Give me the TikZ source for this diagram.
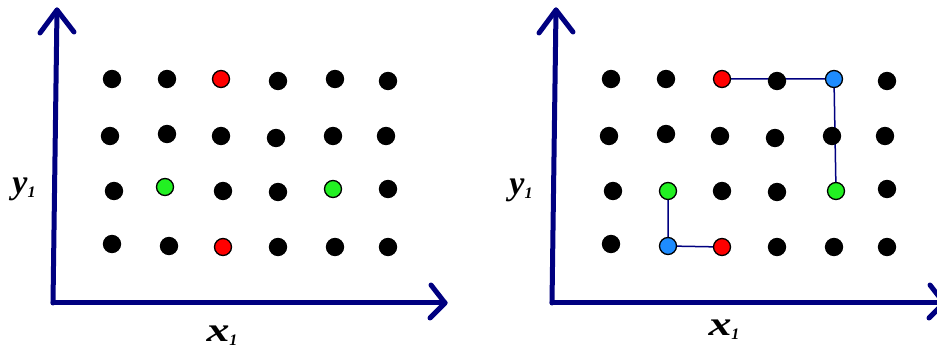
\documentclass[tikz,border=0pt]{standalone}
\usepackage{fontspec}
\setmainfont{Liberation Serif}
\pgfdeclarelayer{bg}
\pgfsetlayers{bg,main}
\definecolor{navy}{RGB}{0,0,128}
\definecolor{dotred}{RGB}{255,0,0}
\definecolor{dotgreen}{RGB}{34,240,34}
\definecolor{dotblue}{RGB}{30,140,255}
\tikzset{
  dot/.style={circle, fill=black, draw=black, line width=1.3pt, inner sep=0pt, minimum size=17pt},
  rdot/.style={dot, fill=dotred},
  gdot/.style={dot, fill=dotgreen},
  bdot/.style={dot, fill=dotblue},
  axis/.style={draw=navy, line width=5pt, line cap=round, line join=round},
  link/.style={draw=navy, line width=1.5pt},
  lab/.style={font=\fontsize{34}{34}\selectfont\bfseries\itshape, inner sep=0pt}
}
\newcommand{\subone}{\raisebox{-4pt}{\fontsize{16}{16}\selectfont\bfseries\itshape 1}}
\newcommand{\xlab}{\scalebox{1.35}[1]{x}\subone}
\begin{document}
\begin{tikzpicture}[x=1pt,y=-1pt]
\useasboundingbox (0,0) rectangle (937,352);
\clip (0,0) rectangle (937,352);
% ---------- left panel ----------
\coordinate (LO) at (53,303);
\coordinate (LY) at (57,10);
\coordinate (LX) at (445,303);
\draw[axis] (LO) -- (LY);
\draw[axis] (40,33) -- (LY) -- (74,32);
\draw[axis] (LO) -- (LX);
\draw[axis] (431,285) -- (LX) -- (430,318);
\node[lab] (Lylab) at (24,189) {y\subone};
\node[lab] (Lxlab) at (222,336) {\xlab};
\node[dot]  (L11) at (112,79) {};
\node[dot]  (L12) at (167,79) {};
\node[rdot] (L13) at (221,79) {};
\node[dot]  (L14) at (278,81) {};
\node[dot]  (L15) at (335,79) {};
\node[dot]  (L16) at (388,81) {};
\node[dot]  (L21) at (110,136) {};
\node[dot]  (L22) at (167,134) {};
\node[dot]  (L23) at (221,136) {};
\node[dot]  (L24) at (276,138) {};
\node[dot]  (L25) at (333,136) {};
\node[dot]  (L26) at (386,136) {};
\node[dot]  (L31) at (114,191) {};
\node[gdot] (L32) at (165,187) {};
\node[dot]  (L33) at (223,191) {};
\node[dot]  (L34) at (278,192) {};
\node[gdot] (L35) at (333,189) {};
\node[dot]  (L36) at (388,189) {};
\node[dot]  (L41) at (112,244) {};
\node[dot]  (L42) at (169,246) {};
\node[rdot] (L43) at (223,247) {};
\node[dot]  (L44) at (278,247) {};
\node[dot]  (L45) at (335,247) {};
\node[dot]  (L46) at (388,247) {};
% ---------- right panel ----------
\coordinate (RO) at (552,303);
\coordinate (RY) at (556,10);
\coordinate (RX) at (944,303);
\draw[axis] (RO) -- (RY);
\draw[axis] (539,33) -- (RY) -- (573,32);
\draw[axis] (RO) -- (RX);
\draw[axis] (930,285) -- (RX) -- (929,318);
\node[lab] (Rylab) at (521,190) {y\subone};
\node[lab] (Rxlab) at (724,330) {\xlab};
\node[dot]  (R11) at (611,79) {};
\node[dot]  (R12) at (666,79) {};
\node[rdot] (R13) at (722,79) {};
\node[dot]  (R14) at (777,81) {};
\node[bdot] (R15) at (834,79) {};
\node[dot]  (R16) at (887,81) {};
\node[dot]  (R21) at (609,136) {};
\node[dot]  (R22) at (666,134) {};
\node[dot]  (R23) at (720,136) {};
\node[dot]  (R24) at (775,138) {};
\node[dot]  (R25) at (832,136) {};
\node[dot]  (R26) at (885,136) {};
\node[dot]  (R31) at (613,191) {};
\node[gdot] (R32) at (668,191) {};
\node[dot]  (R33) at (722,191) {};
\node[dot]  (R34) at (777,192) {};
\node[gdot] (R35) at (836,191) {};
\node[dot]  (R36) at (887,189) {};
\node[dot]  (R41) at (611,244) {};
\node[bdot] (R42) at (668,246) {};
\node[rdot] (R43) at (722,247) {};
\node[dot]  (R44) at (777,247) {};
\node[dot]  (R45) at (834,247) {};
\node[dot]  (R46) at (887,247) {};
\begin{pgfonlayer}{bg}
\draw[link] (R13.center) -- (R15.center) -- (R35.center);
\draw[link] (R32.center) -- (R42.center) -- (R43.center);
\end{pgfonlayer}
\end{tikzpicture}
\end{document}
